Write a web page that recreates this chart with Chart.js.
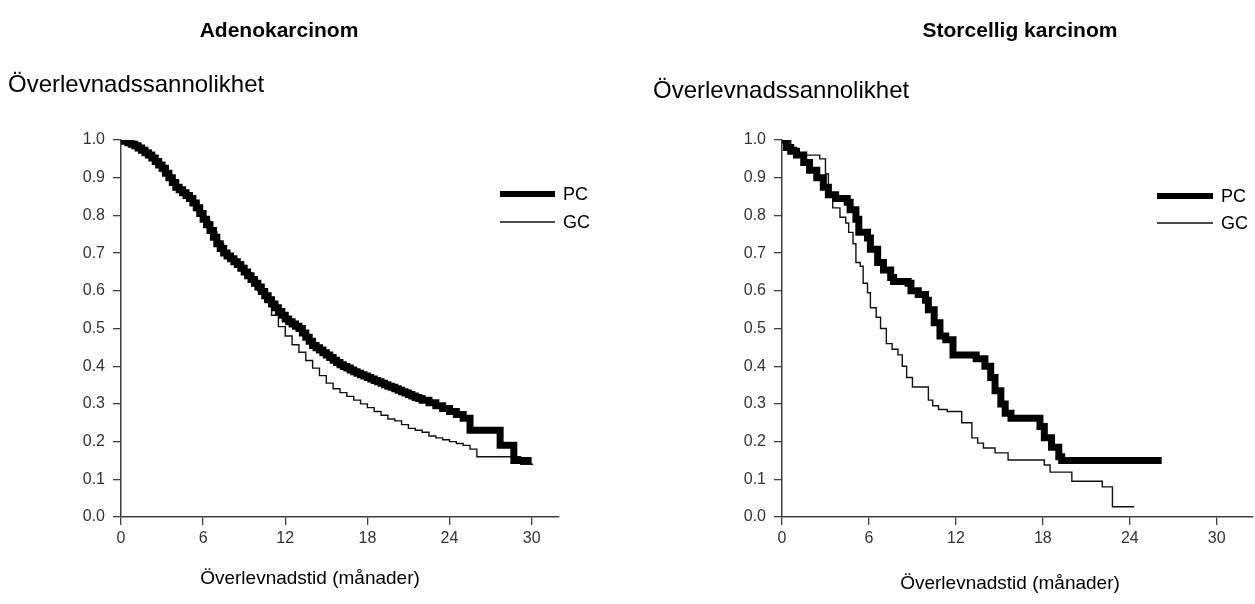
<!DOCTYPE html>
<html><head><meta charset="utf-8">
<script src="https://cdn.jsdelivr.net/npm/chart.js@4.4.1/dist/chart.umd.min.js"></script>
<style>
body{margin:0;background:#fff;font-family:"Liberation Sans",Arial,sans-serif;}
#wrap{position:relative;width:1255px;height:604px;overflow:hidden;background:#fff;}
canvas{position:absolute;top:0;}
.t{position:absolute;white-space:nowrap;color:#000;line-height:1;}
.c{transform:translate(-50%,-50%);}
.l{transform:translate(0,-50%);}
</style></head>
<body><div id="wrap">
<canvas id="c1" width="620" height="604" style="left:0"></canvas>
<canvas id="c2" width="635" height="604" style="left:620px"></canvas>
<div class="t c" style="left:279px;top:29px;font-size:21px;font-weight:bold">Adenokarcinom</div>
<div class="t c" style="left:1020px;top:29px;font-size:21px;font-weight:bold">Storcellig karcinom</div>
<div class="t l" style="left:8px;top:84px;font-size:24px">Överlevnadssannolikhet</div>
<div class="t l" style="left:653px;top:90px;font-size:24px">Överlevnadssannolikhet</div>
<div class="t c" style="left:310px;top:577px;font-size:19px">Överlevnadstid (månader)</div>
<div class="t c" style="left:1010px;top:582px;font-size:19px">Överlevnadstid (månader)</div>
</div>
<script>
// ---- Data ----
const seriesLabels = ["PC", "GC"];
const xTickStep = 6;   // months
const yTickStep = 0.1;

// Adenokarcinom
const adenoPcTime = [0,0.25,0.5,0.75,1,1.25,1.5,1.75,2,2.25,2.5,2.75,3,3.25,3.5,3.75,4,4.25,4.5,4.75,5,5.25,5.5,5.75,6,6.25,6.5,6.75,7,7.25,7.5,7.75,8,8.25,8.5,8.75,9,9.25,9.5,9.75,10,10.25,10.5,10.75,11,11.25,11.5,11.75,12,12.25,12.5,12.75,13,13.25,13.5,13.75,14,14.25,14.5,14.75,15,15.25,15.5,15.75,16,16.25,16.5,16.75,17,17.25,17.5,17.75,18,18.25,18.5,18.75,19,19.25,19.5,19.75,20,20.25,20.5,20.75,21,21.25,21.5,21.75,22,22.5,23,23.5,24,24.5,25,25.5,27.7,28.7,30];
const adenoPcSurv = [1.0,0.997,0.993,0.989,0.985,0.979,0.973,0.966,0.96,0.952,0.943,0.934,0.925,0.912,0.9,0.887,0.875,0.868,0.86,0.853,0.845,0.833,0.82,0.805,0.79,0.775,0.76,0.742,0.725,0.712,0.70,0.692,0.685,0.677,0.67,0.66,0.65,0.64,0.63,0.62,0.61,0.598,0.587,0.576,0.565,0.555,0.545,0.535,0.525,0.518,0.512,0.506,0.50,0.488,0.477,0.466,0.455,0.449,0.443,0.436,0.43,0.423,0.416,0.41,0.404,0.399,0.395,0.39,0.385,0.381,0.377,0.374,0.37,0.366,0.362,0.359,0.355,0.351,0.347,0.344,0.34,0.336,0.332,0.329,0.325,0.321,0.317,0.314,0.31,0.303,0.295,0.288,0.28,0.272,0.262,0.23,0.19,0.15,0.15];
const adenoGcTime = [0,0.5,1,1.5,2,2.5,3,3.5,4,4.5,5,5.5,6,6.5,7,7.5,8,8.5,9,9.5,10,10.5,11,11.5,12,12.5,13,13.5,14,14.5,15,15.5,16,16.5,17,17.5,18,18.5,19,19.5,20,20.5,21,21.5,22,22.5,23,23.5,24,24.5,25,25.5,26,29.2,30.1];
const adenoGcSurv = [1.0,0.99,0.98,0.968,0.955,0.935,0.915,0.893,0.872,0.857,0.838,0.812,0.785,0.757,0.725,0.70,0.685,0.668,0.648,0.625,0.60,0.57,0.535,0.505,0.48,0.457,0.437,0.415,0.395,0.375,0.355,0.34,0.33,0.32,0.31,0.3,0.29,0.28,0.27,0.26,0.255,0.245,0.235,0.23,0.225,0.215,0.21,0.205,0.2,0.195,0.19,0.18,0.16,0.14,0.14];

// Storcellig karcinom
const largePcTime = [0,0.3,0.6,1.0,1.5,1.9,2.4,2.85,3.2,3.7,4.5,4.7,5.1,5.3,5.9,6.1,6.6,7.0,7.5,7.7,8.7,8.9,9.4,9.9,10.1,10.5,10.9,11.3,11.8,13.4,14.0,14.4,14.7,15.1,15.4,15.8,17.8,18.1,18.6,19.1,19.3,26.2];
const largePcSurv = [1.0,0.98,0.97,0.96,0.94,0.92,0.9,0.875,0.855,0.845,0.835,0.815,0.79,0.755,0.74,0.71,0.675,0.655,0.635,0.625,0.62,0.6,0.59,0.575,0.55,0.515,0.48,0.47,0.43,0.42,0.4,0.37,0.335,0.3,0.275,0.262,0.24,0.21,0.185,0.16,0.15,0.15];
const largeGcTime = [0,0.6,1.0,2.6,3.0,3.2,3.5,4.0,4.4,4.6,4.9,5.1,5.4,5.6,5.9,6.1,6.5,6.8,7.2,7.6,8.0,8.3,8.6,9.0,10.1,10.4,10.8,11.4,12.4,13.1,13.5,13.9,14.7,15.6,18.1,18.5,20.0,22.1,22.8,24.3];
const largeGcSurv = [1.0,0.98,0.96,0.95,0.91,0.85,0.82,0.795,0.78,0.755,0.725,0.675,0.665,0.62,0.595,0.555,0.53,0.5,0.46,0.445,0.43,0.40,0.37,0.345,0.31,0.295,0.285,0.28,0.25,0.21,0.196,0.183,0.17,0.151,0.138,0.119,0.095,0.08,0.027,0.027];

const pts = (t, s) => t.map((v, i) => ({x: v, y: s[i]}));

const kmLegend = {
  id: 'kmLegend',
  afterDraw(chart, args, o) {
    const ctx = chart.ctx;
    ctx.save();
    chart.data.datasets.forEach((ds, i) => {
      const y = o.y + i * o.gap;
      ctx.beginPath();
      ctx.strokeStyle = ds.borderColor;
      ctx.lineWidth = o.widths[i];
      ctx.lineCap = 'butt';
      ctx.moveTo(o.x, y);
      ctx.lineTo(o.x + o.len, y);
      ctx.stroke();
      ctx.fillStyle = '#000';
      ctx.font = o.font;
      ctx.textBaseline = 'middle';
      ctx.textAlign = 'left';
      ctx.fillText(ds.label, o.x + o.len + o.textGap, y + 1);
    });
    ctx.restore();
  }
};

function makeChart(id, pc, gc, xMax, lay, leg) {
  const axisColor = '#404040';
  const tickFont = {family: '"Liberation Sans", Arial, sans-serif', size: 16};
  return new Chart(document.getElementById(id), {
    type: 'line',
    data: {
      datasets: [
        {label: seriesLabels[0], data: pc, borderColor: '#000', borderWidth: 7, stepped: 'before',
         pointRadius: 0, fill: false, borderJoinStyle: 'miter', borderCapStyle: 'butt'},
        {label: seriesLabels[1], data: gc, borderColor: '#111', borderWidth: 1.4, stepped: 'before',
         pointRadius: 0, fill: false, borderJoinStyle: 'miter'}
      ]
    },
    options: {
      responsive: false,
      animation: false,
      events: [],
      layout: {padding: {left: 0, top: lay.top, right: lay.right, bottom: 0}},
      plugins: {legend: {display: false}, tooltip: {enabled: false}, kmLegend: leg},
      scales: {
        x: {
          type: 'linear', min: 0, max: xMax,
          afterFit: s => { s.height = lay.xh; },
          ticks: {stepSize: xTickStep, includeBounds: false, color: '#333', font: tickFont, padding: 4, maxRotation: 0},
          grid: {drawOnChartArea: false, drawTicks: true, tickLength: 8, color: axisColor, lineWidth: 1.3},
          border: {display: true, color: axisColor, width: 1.5}
        },
        y: {
          type: 'linear', min: 0, max: 1,
          afterFit: s => { s.width = lay.yw; },
          ticks: {stepSize: yTickStep, color: '#333', font: tickFont, padding: 8,
                  callback: v => Number(v).toFixed(1)},
          grid: {drawOnChartArea: false, drawTicks: true, tickLength: 8, color: axisColor, lineWidth: 1.3},
          border: {display: true, color: axisColor, width: 1.5}
        }
      }
    },
    plugins: [kmLegend]
  });
}

makeChart('c1', pts(adenoPcTime, adenoPcSurv), pts(adenoGcTime, adenoGcSurv), 32,
  {top: 140, right: 61, xh: 87, yw: 121},
  {x: 500, y: 194, gap: 28, len: 55, textGap: 8, widths: [6, 1.3], font: '18px "Liberation Sans", Arial, sans-serif'});
makeChart('c2', pts(largePcTime, largePcSurv), pts(largeGcTime, largeGcSurv), 32.5,
  {top: 140, right: 2, xh: 87, yw: 162},
  {x: 537, y: 196, gap: 27, len: 56, textGap: 8, widths: [6, 1.3], font: '18px "Liberation Sans", Arial, sans-serif'});
</script>
</body></html>
